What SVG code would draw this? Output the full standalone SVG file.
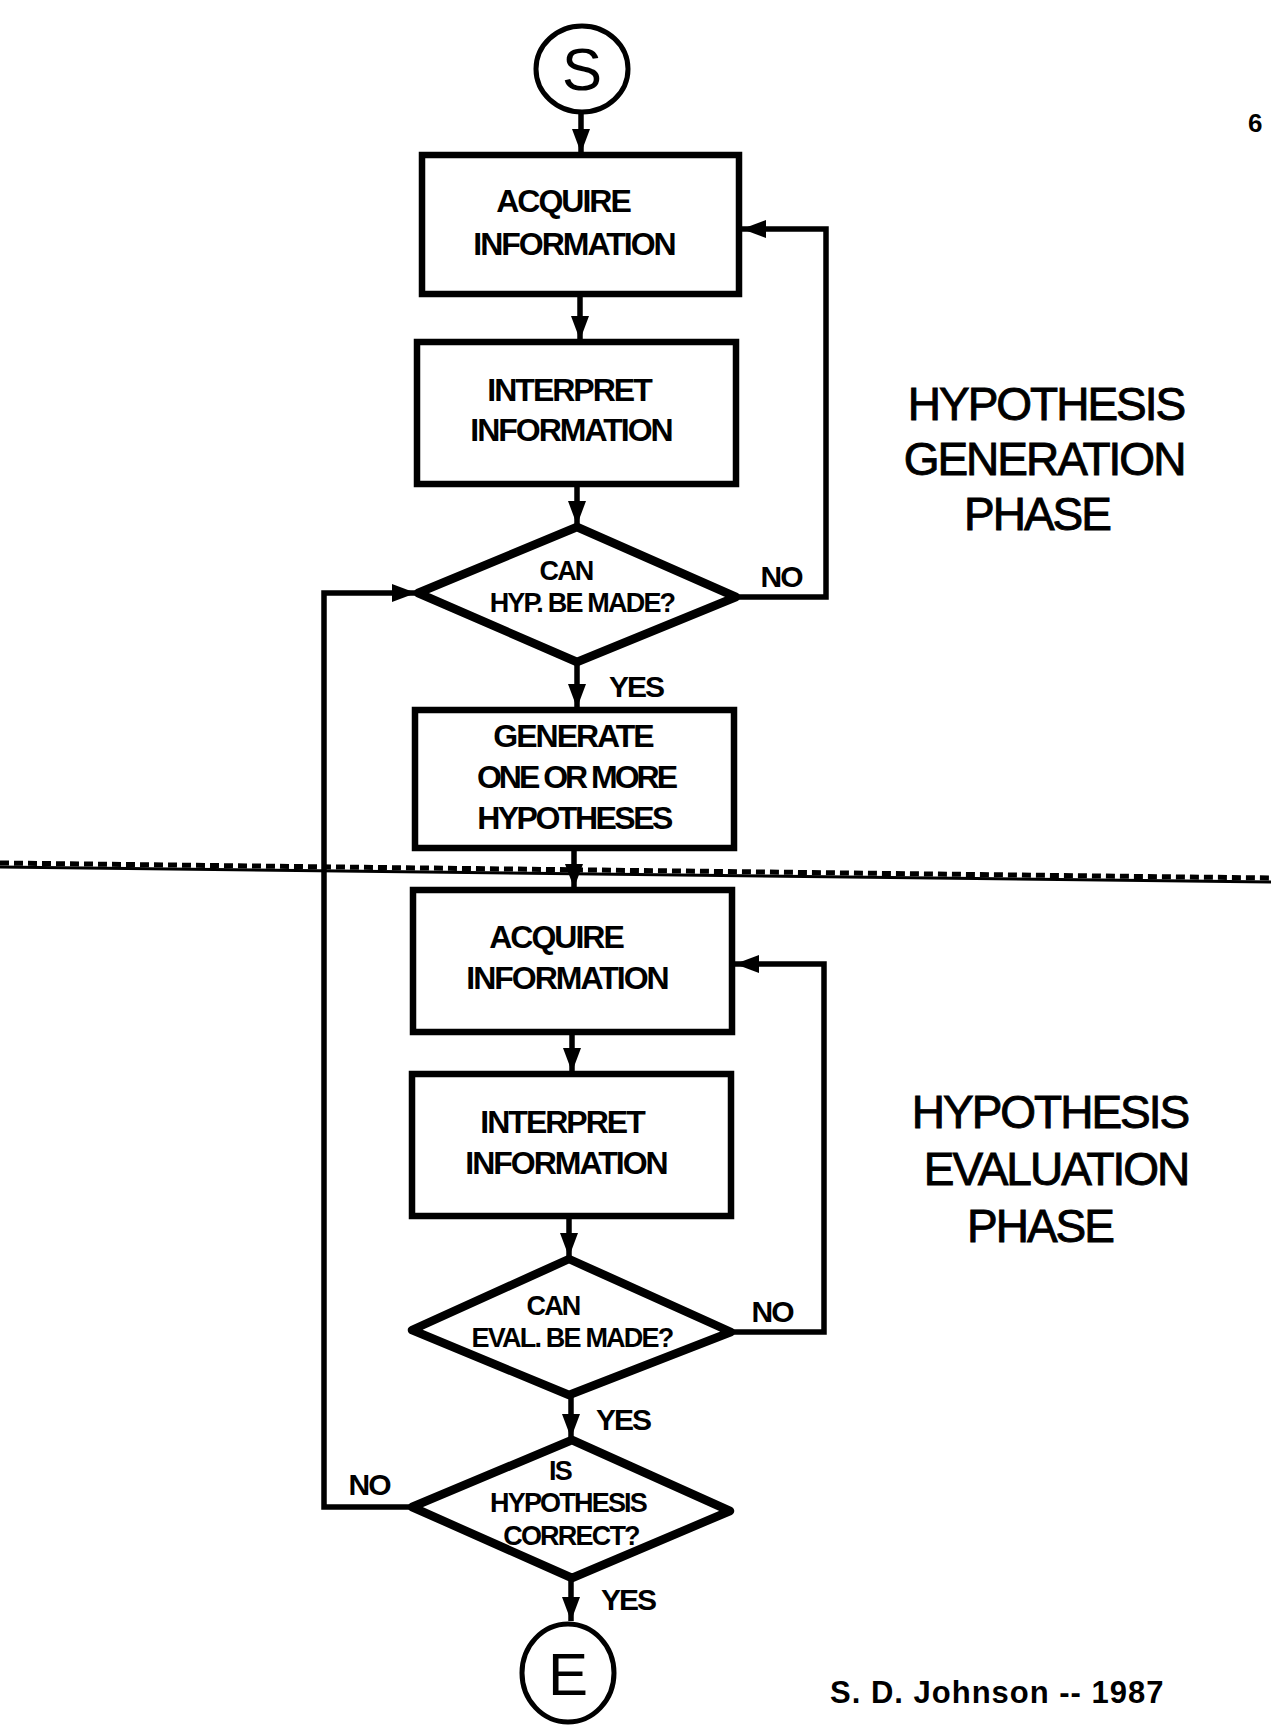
<svg xmlns="http://www.w3.org/2000/svg" width="1271" height="1731" viewBox="0 0 1271 1731">
<defs>
<marker id="arr" viewBox="0 0 24 18" refX="24" refY="9" markerWidth="24" markerHeight="18" markerUnits="userSpaceOnUse" orient="auto">
<path d="M0,0 L24,9 L0,18 Z" fill="#000"/>
</marker>
<style>
.box{fill:#fff;stroke:#000;stroke-width:6.5}
.dia{fill:#fff;stroke:#000;stroke-width:8.5;stroke-linejoin:round}
.term{fill:#fff;stroke:#000;stroke-width:5}
.con{fill:none;stroke:#000;stroke-width:5.5}
.bt{font-family:"Liberation Sans",Arial,sans-serif;font-weight:bold;font-size:32px;letter-spacing:-2px;text-anchor:middle;fill:#000}
.dt{font-family:"Liberation Sans",Arial,sans-serif;font-weight:bold;font-size:27px;letter-spacing:-1.8px;text-anchor:middle;fill:#000}
.lab{font-family:"Liberation Sans",Arial,sans-serif;font-weight:bold;font-size:30px;letter-spacing:-2px;text-anchor:middle;fill:#000}
.ph{font-family:"Liberation Sans",Arial,sans-serif;font-size:46px;letter-spacing:-2px;text-anchor:middle;fill:#000;stroke:#000;stroke-width:0.9}
.big{font-family:"Liberation Sans",Arial,sans-serif;font-size:60px;text-anchor:middle;fill:#000}
.sig{font-family:"Liberation Sans",Arial,sans-serif;font-weight:bold;font-size:31px;letter-spacing:1px;fill:#000}
</style>
</defs>
<rect width="1271" height="1731" fill="#fff"/>

<g id="connectors">
<line class="con" x1="581" y1="112" x2="581" y2="153" marker-end="url(#arr)"/>
<line class="con" x1="580" y1="297" x2="580" y2="340" marker-end="url(#arr)"/>
<line class="con" x1="577" y1="485" x2="577" y2="525" marker-end="url(#arr)"/>
<polyline class="con" points="736,597 826,597 826,229 742,229" marker-end="url(#arr)"/>
<line class="con" x1="577" y1="664" x2="577" y2="708" marker-end="url(#arr)"/>
<line class="con" x1="574" y1="849" x2="574" y2="888" marker-end="url(#arr)"/>
<polyline class="con" points="731,1332 824,1332 824,964 735,964" marker-end="url(#arr)"/>
<line class="con" x1="572" y1="1033" x2="572" y2="1072" marker-end="url(#arr)"/>
<line class="con" x1="569" y1="1217" x2="569" y2="1257" marker-end="url(#arr)"/>
<line class="con" x1="571" y1="1397" x2="571" y2="1438" marker-end="url(#arr)"/>
<polyline class="con" points="412,1507 324,1507 324,593 416,593" marker-end="url(#arr)"/>
<line class="con" x1="571" y1="1580" x2="571" y2="1621" marker-end="url(#arr)"/>
<text class="lab" x="781" y="587">NO</text>
<text class="lab" x="636" y="697">YES</text>
<text class="lab" x="772" y="1322">NO</text>
<text class="lab" x="623" y="1430">YES</text>
<text class="lab" x="369" y="1495">NO</text>
<text class="lab" x="628" y="1610">YES</text>
</g>

<g id="divider">
<line x1="0" y1="867" x2="1271" y2="882" stroke="#000" stroke-width="3"/>
<line x1="0" y1="863" x2="1271" y2="878" stroke="#000" stroke-width="5" stroke-dasharray="9 5"/>
</g>

<g id="start">
<ellipse class="term" cx="582" cy="69" rx="46" ry="43"/>
<text class="big" x="582" y="90">S</text>
</g>

<g id="acquire1">
<rect class="box" x="422" y="155" width="317" height="139"/>
<text class="bt" x="563" y="212">ACQUIRE</text>
<text class="bt" x="574" y="255">INFORMATION</text>
</g>

<g id="interpret1">
<rect class="box" x="417" y="342" width="319" height="142"/>
<text class="bt" x="569" y="401">INTERPRET</text>
<text class="bt" x="571" y="441">INFORMATION</text>
</g>

<g id="decision1">
<polygon class="dia" points="577,527 736,597 577,662 418,593"/>
<text class="dt" x="566" y="580">CAN</text>
<text class="dt" x="582" y="612">HYP. BE MADE?</text>
</g>

<g id="generate">
<rect class="box" x="415" y="710" width="319" height="138"/>
<text class="bt" x="573" y="747">GENERATE</text>
<text class="bt" x="576" y="788" style="letter-spacing:-3px">ONE OR MORE</text>
<text class="bt" x="574" y="829" style="letter-spacing:-2.5px">HYPOTHESES</text>
</g>

<g id="acquire2">
<rect class="box" x="413" y="890" width="319" height="142"/>
<text class="bt" x="556" y="948">ACQUIRE</text>
<text class="bt" x="567" y="989">INFORMATION</text>
</g>

<g id="interpret2">
<rect class="box" x="412" y="1074" width="319" height="142"/>
<text class="bt" x="562" y="1133">INTERPRET</text>
<text class="bt" x="566" y="1174">INFORMATION</text>
</g>

<g id="decision2">
<polygon class="dia" points="569,1259 731,1332 569,1395 412,1330"/>
<text class="dt" x="553" y="1315">CAN</text>
<text class="dt" x="572" y="1347">EVAL. BE MADE?</text>
</g>

<g id="decision3">
<polygon class="dia" points="572,1440 730,1511 572,1578 412,1507"/>
<text class="dt" x="560" y="1480">IS</text>
<text class="dt" x="568" y="1512">HYPOTHESIS</text>
<text class="dt" x="571" y="1545">CORRECT?</text>
</g>

<g id="end">
<ellipse class="term" cx="568" cy="1673" rx="46" ry="49"/>
<text class="big" x="568" y="1695">E</text>
</g>

<g id="phase-generation">
<text class="ph" x="1046" y="420">HYPOTHESIS</text>
<text class="ph" x="1044" y="475">GENERATION</text>
<text class="ph" x="1037" y="530">PHASE</text>
</g>

<g id="phase-evaluation">
<text class="ph" x="1050" y="1128">HYPOTHESIS</text>
<text class="ph" x="1056" y="1185">EVALUATION</text>
<text class="ph" x="1040" y="1242">PHASE</text>
</g>

<g id="notes">
<text class="sig" x="830" y="1703">S. D. Johnson -- 1987</text>
<text x="1248" y="132" style="font-family:'Liberation Sans',Arial,sans-serif;font-weight:bold;font-size:26px">6</text>
</g>
</svg>
